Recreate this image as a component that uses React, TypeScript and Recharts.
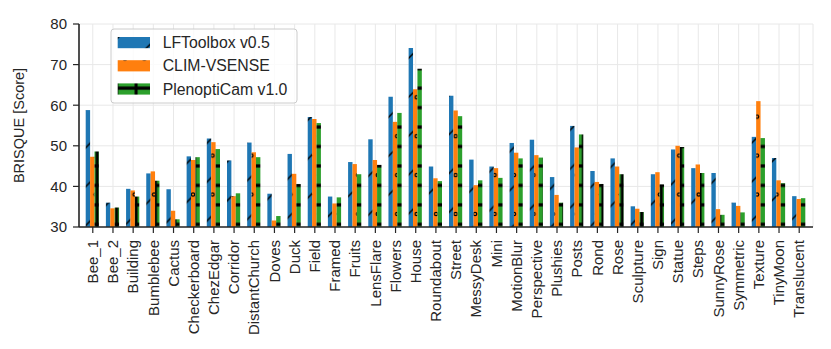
import React from 'react';
import { BarChart, Bar, XAxis, YAxis, CartesianGrid } from 'recharts';

const categories = [
  'Bee_1', 'Bee_2', 'Building', 'Bumblebee', 'Cactus', 'Checkerboard', 'ChezEdgar', 'Corridor',
  'DistantChurch', 'Doves', 'Duck', 'Field', 'Framed', 'Fruits', 'LensFlare', 'Flowers', 'House',
  'Roundabout', 'Street', 'MessyDesk', 'Mini', 'MotionBlur', 'Perspective', 'Plushies', 'Posts',
  'Rond', 'Rose', 'Sculpture', 'Sign', 'Statue', 'Steps', 'SunnyRose', 'Symmetric', 'Texture',
  'TinyMoon', 'Translucent',
];

const lfToolbox = [
  58.8, 36.0, 39.4, 43.2, 39.3, 47.4, 51.8, 46.4, 50.8, 38.2, 48.0, 57.1, 37.5, 46.0, 51.6, 62.1, 74.1,
  44.9, 62.3, 46.6, 44.9, 50.7, 51.5, 42.3, 54.9, 43.8, 46.9, 35.1, 43.0, 49.1, 44.5, 43.3, 36.0, 52.2,
  47.0, 37.6,
];

const climVsense = [
  47.3, 34.6, 39.0, 43.7, 34.0, 46.5, 50.9, 37.6, 48.4, 31.6, 43.1, 56.6, 35.8, 45.5, 46.5, 55.9, 63.9,
  42.0, 58.7, 40.3, 44.5, 48.3, 47.7, 37.9, 49.6, 41.1, 44.9, 34.5, 43.5, 50.0, 45.4, 34.4, 35.2, 61.0,
  41.5, 36.9,
];

const plenoptiCam = [
  48.6, 34.8, 37.5, 41.4, 31.9, 47.2, 49.2, 38.3, 47.2, 32.7, 40.6, 55.6, 37.3, 43.0, 45.3, 58.1, 69.0,
  41.3, 57.3, 41.5, 42.1, 46.9, 47.1, 36.0, 52.8, 40.6, 43.0, 33.7, 40.5, 49.7, 43.3, 33.0, 33.6, 51.9,
  40.8, 37.1,
];

const seriesNames = ['LFToolbox v0.5', 'CLIM-VSENSE', 'PlenoptiCam v1.0'];
const seriesKeys = ['lf', 'clim', 'pc'];
const seriesColors = ['#1f77b4', '#ff7f0e', '#2ca02c'];
const patternIds = ['hatchSlash', 'hatchCircle', 'hatchPlus'];
const yTicks = [30, 40, 50, 60, 70, 80];

const data = categories.map((name, i) => ({
  name,
  lf: lfToolbox[i],
  clim: climVsense[i],
  pc: plenoptiCam[i],
}));

const FONT = '"Liberation Sans", Arial, Helvetica, sans-serif';
const TEXT = '#262626';
const SPINE = '#262626';
const P = 19.45;

function Patterns() {
  const P2 = P * 2;
  return (
    <svg width={0} height={0} style={{ position: 'absolute', left: 0, top: 0 }} aria-hidden>
      <defs>
        <pattern id="hatchSlash" patternUnits="userSpaceOnUse" x={22.9} y={0} width={P2} height={P2}>
          <rect x={0} y={0} width={P2} height={P2} fill={seriesColors[0]} />
          <line x1={0} y1={P2} x2={P2} y2={0} stroke="#000" strokeWidth={1.5} />
          <line x1={-3} y1={3} x2={3} y2={-3} stroke="#000" strokeWidth={1.5} />
          <line x1={P2 - 3} y1={P2 + 3} x2={P2 + 3} y2={P2 - 3} stroke="#000" strokeWidth={1.5} />
        </pattern>
        <pattern id="hatchCircle" patternUnits="userSpaceOnUse" x={408.7} y={89.3} width={P} height={P2}>
          <rect x={0} y={0} width={P} height={P2} fill={seriesColors[1]} />
          {[
            [0, 0], [P, 0], [0, P2], [P, P2], [P / 2, P],
          ].map(([cx, cy], k) => (
            <circle key={k} cx={cx} cy={cy} r={1.7} fill="none" stroke="#000" strokeWidth={1.2} />
          ))}
        </pattern>
        <pattern id="hatchPlus" patternUnits="userSpaceOnUse" x={361.5} y={2.35} width={P} height={P}>
          <rect x={0} y={0} width={P} height={P} fill={seriesColors[2]} />
          <line x1={0} y1={0} x2={P} y2={0} stroke="#000" strokeWidth={3.2} />
          <line x1={0} y1={P} x2={P} y2={P} stroke="#000" strokeWidth={3.2} />
          <line x1={0} y1={0} x2={0} y2={P} stroke="#000" strokeWidth={3} />
          <line x1={P} y1={0} x2={P} y2={P} stroke="#000" strokeWidth={3} />
        </pattern>
      </defs>
    </svg>
  );
}

function XTick(props: any) {
  const { x, y, payload } = props;
  return (
    <text
      x={0}
      y={0}
      transform={`translate(${x + 5.2},${y + 5}) rotate(-90)`}
      textAnchor="end"
      fontSize={15}
      fill={TEXT}
      fontFamily={FONT}
    >
      {payload.value}
    </text>
  );
}

function YLabel(props: any) {
  const vb = props.viewBox || { x: 0, y: 16, width: 71, height: 203 };
  const cx = vb.x + 11;
  const cy = vb.y + vb.height / 2;
  return (
    <text
      x={cx}
      y={cy}
      transform={`rotate(-90 ${cx} ${cy})`}
      textAnchor="middle"
      dominantBaseline="central"
      fontSize={14.5}
      fill={TEXT}
      fontFamily={FONT}
    >
      BRISQUE [Score]
    </text>
  );
}

function HatchLegend() {
  return (
    <g className="hatch-legend">
      <rect x={103} y={21} width={186} height={74} rx={3} ry={3} fill="#ffffff" fillOpacity={0.8} stroke="#cccccc" strokeWidth={1} />
      {seriesNames.map((n, i) => (
        <g key={n}>
          <rect x={109.7} y={29 + i * 23.2} width={32.3} height={11.2} fill={`url(#${patternIds[i]})`} />
          <text
            x={154.7}
            y={34.6 + i * 23.2}
            dominantBaseline="central"
            fontSize={15.8}
            fill={TEXT}
            fontFamily={FONT}
          >
            {n}
          </text>
        </g>
      ))}
    </g>
  );
}

export default function App() {
  return (
    <div style={{ position: 'relative', width: 815, height: 333 }}>
      <Patterns />
      <BarChart
        width={815}
        height={333}
        data={data}
        margin={{ top: 16, right: 10, left: 0, bottom: 4 }}
        barGap={0}
        barSize={4.4}
      >
        <CartesianGrid stroke="#e8e8e8" strokeWidth={1} />
        <XAxis
          dataKey="name"
          interval={0}
          height={110}
          padding={{ left: 3.7, right: 3.7 }}
          tick={<XTick />}
          tickSize={6}
          tickLine={{ stroke: SPINE, strokeWidth: 1.2 }}
          axisLine={{ stroke: SPINE, strokeWidth: 1.6 }}
        />
        <XAxis
          xAxisId="top"
          dataKey="name"
          orientation="top"
          height={0}
          tick={false}
          tickLine={false}
          axisLine={{ stroke: SPINE, strokeWidth: 1.6 }}
        />
        <YAxis
          width={71}
          domain={[30, 80]}
          ticks={yTicks}
          allowDataOverflow
          tickSize={6}
          tickMargin={6}
          tick={{ fontSize: 15, fill: TEXT, fontFamily: FONT }}
          tickLine={{ stroke: SPINE, strokeWidth: 1.2 }}
          axisLine={{ stroke: SPINE, strokeWidth: 1.6 }}
          label={<YLabel />}
        />
        <YAxis
          yAxisId="right"
          orientation="right"
          width={0}
          domain={[30, 80]}
          tick={false}
          tickLine={false}
          axisLine={{ stroke: SPINE, strokeWidth: 1.6 }}
        />
        {seriesKeys.map((k, i) => (
          <Bar
            key={k}
            dataKey={k}
            name={seriesNames[i]}
            fill={`url(#${patternIds[i]})`}
            barSize={4.4}
            isAnimationActive={false}
          />
        ))}
        <HatchLegend />
      </BarChart>
    </div>
  );
}
